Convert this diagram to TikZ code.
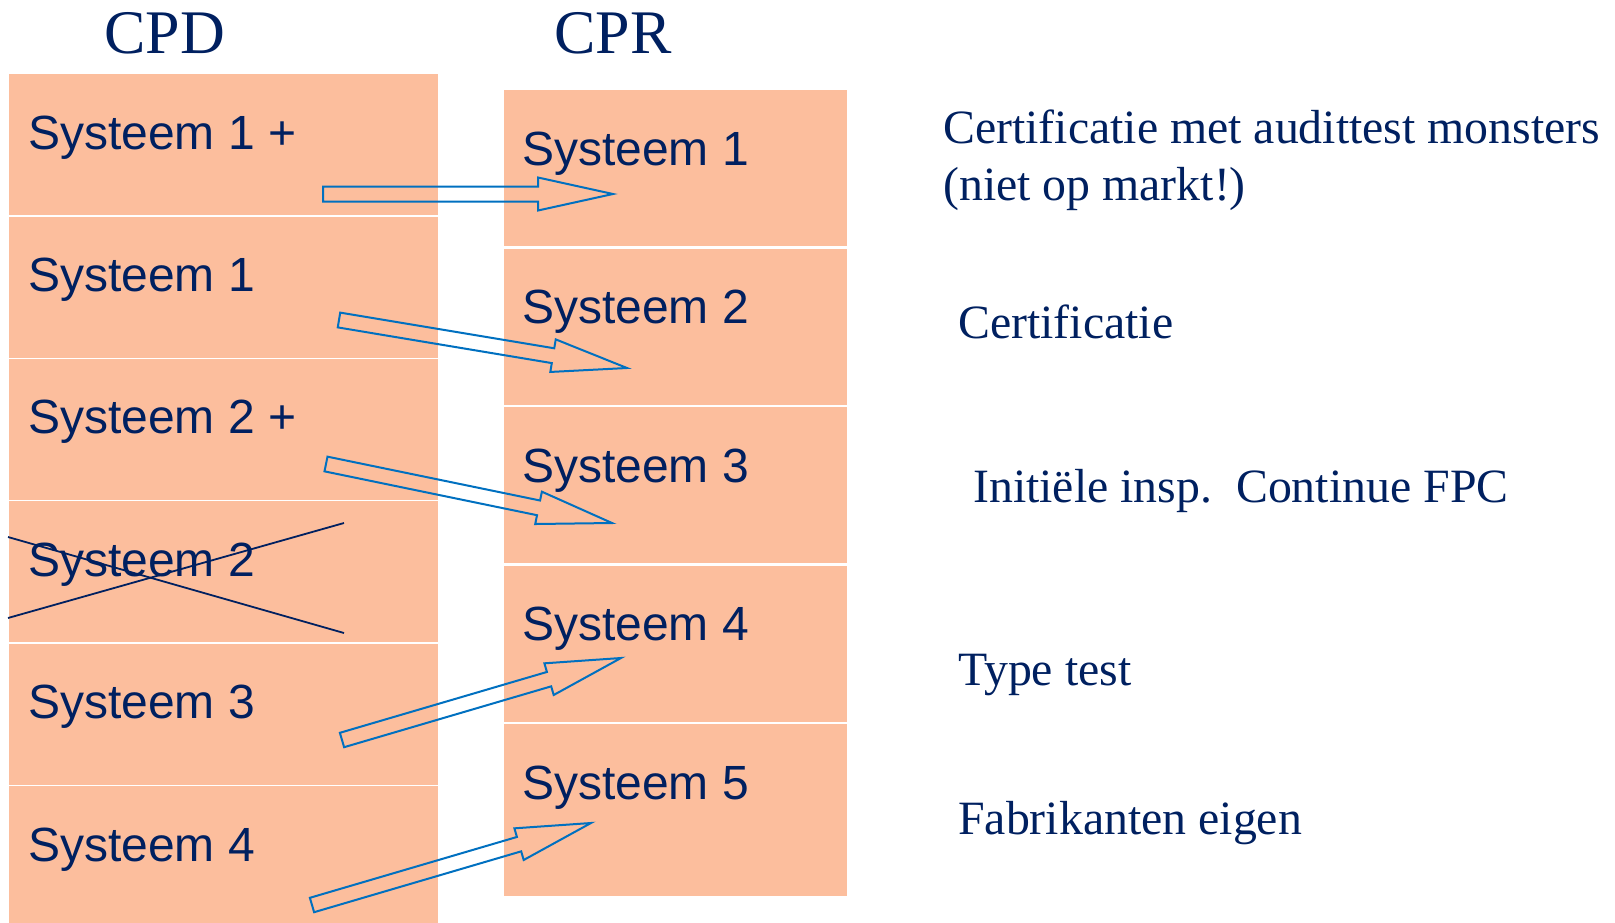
\documentclass[tikz,border=0pt]{standalone}
\usepackage{fontspec}
\setmainfont{Liberation Serif}
\newfontfamily\arialf{Liberation Sans}
\usetikzlibrary{calc}
\definecolor{peach}{RGB}{252,190,157}
\definecolor{navy}{RGB}{0,32,96}
\definecolor{arrowblue}{RGB}{0,112,192}
\tikzset{
  lbox/.style={fill=peach, draw=none, anchor=north west, minimum width=429pt, minimum height=141pt, inner sep=0pt, outer sep=0pt},
  rbox/.style={fill=peach, draw=none, anchor=north west, minimum width=343pt, minimum height=156pt, inner sep=0pt, outer sep=0pt},
  stxt/.style={anchor=base west, inner sep=0pt, text=navy, font=\arialf\fontsize{48}{57}\selectfont},
  rtxt/.style={anchor=base west, inner sep=0pt, text=navy, font=\fontsize{47.8}{56}\selectfont},
  ttl/.style={anchor=base, inner sep=0pt, text=navy, font=\fontsize{62}{70}\selectfont},
  barrow/.style={draw=arrowblue, line width=2pt, line join=miter},
  xline/.style={draw=navy, line width=1.8pt}
}
\newcommand\blkarrow[2]{%
  \coordinate (#2n) at ($(#2)!75pt!(#1)$);
  \draw[barrow] ($(#1)!7.5pt!90:(#2)$) -- ($(#2n)!7.5pt!-90:(#1)$) -- ($(#2n)!16.5pt!-90:(#1)$) -- (#2)
    -- ($(#2n)!16.5pt!90:(#1)$) -- ($(#2n)!7.5pt!90:(#1)$) -- ($(#1)!7.5pt!-90:(#2)$) -- cycle;}
\begin{document}
\begin{tikzpicture}[x=1pt,y=-1pt]
\useasboundingbox (0,0) rectangle (1615,922);
% titles
\node[ttl] (cpd) at (164.5,53) {CPD};
\node[ttl] (cpr) at (613,53) {CPR};
% left column
\node[lbox] (L1) at (9,74) {};
\node[lbox] (L2) at (9,216.5) {};
\node[lbox] (L3) at (9,358.5) {};
\node[lbox] (L4) at (9,501) {};
\node[lbox] (L5) at (9,643.5) {};
\node[lbox] (L6) at (9,786) {};
\node[stxt] (L1t) at (28,149) {Systeem 1 +};
\node[stxt] (L2t) at (28,291.5) {Systeem 1};
\node[stxt] (L3t) at (28,433.5) {Systeem 2 +};
\node[stxt] (L4t) at (28,576) {Systeem 2};
\node[stxt] (L5t) at (28,718.5) {Systeem 3};
\node[stxt] (L6t) at (28,861) {Systeem 4};
% right column
\node[rbox] (R1) at (504,90) {};
\node[rbox] (R2) at (504,248.5) {};
\node[rbox] (R3) at (504,407) {};
\node[rbox] (R4) at (504,565.5) {};
\node[rbox, minimum height=172pt] (R5) at (504,724) {};
\node[stxt] (R1t) at (522,165) {Systeem 1};
\node[stxt] (R2t) at (522,323.5) {Systeem 2};
\node[stxt] (R3t) at (522,482) {Systeem 3};
\node[stxt] (R4t) at (522,640.5) {Systeem 4};
\node[stxt] (R5t) at (522,799) {Systeem 5};
% descriptions
\node[rtxt] (d1a) at (943,143) {Certificatie met audittest monsters};
\node[rtxt] (d1b) at (943,200) {(niet op markt!)};
\node[rtxt] (d2) at (958,338) {Certificatie};
\node[rtxt] (d3) at (973,502) {Initiële insp.\hspace{24pt}Continue FPC};
\node[rtxt] (d4) at (958,685) {Type test};
\node[rtxt] (d5) at (958,834) {Fabrikanten eigen};
% cross over Systeem 2
\coordinate (xa1) at (8,537);
\coordinate (xa2) at (344,633);
\coordinate (xb1) at (8,618);
\coordinate (xb2) at (344,523);
\draw[xline] (xa1) -- (xa2);
\draw[xline] (xb1) -- (xb2);
% block arrows
\coordinate (a1t) at (323,194);  \coordinate (a1h) at (613,194);
\coordinate (a2t) at (339,320);  \coordinate (a2h) at (627,368);
\coordinate (a3t) at (326,464);  \coordinate (a3h) at (612,523);
\coordinate (a4t) at (342,740);  \coordinate (a4h) at (621,658);
\coordinate (a5t) at (312,905);  \coordinate (a5h) at (591,823);
\blkarrow{a1t}{a1h}
\blkarrow{a2t}{a2h}
\blkarrow{a3t}{a3h}
\blkarrow{a4t}{a4h}
\blkarrow{a5t}{a5h}
\end{tikzpicture}
\end{document}
